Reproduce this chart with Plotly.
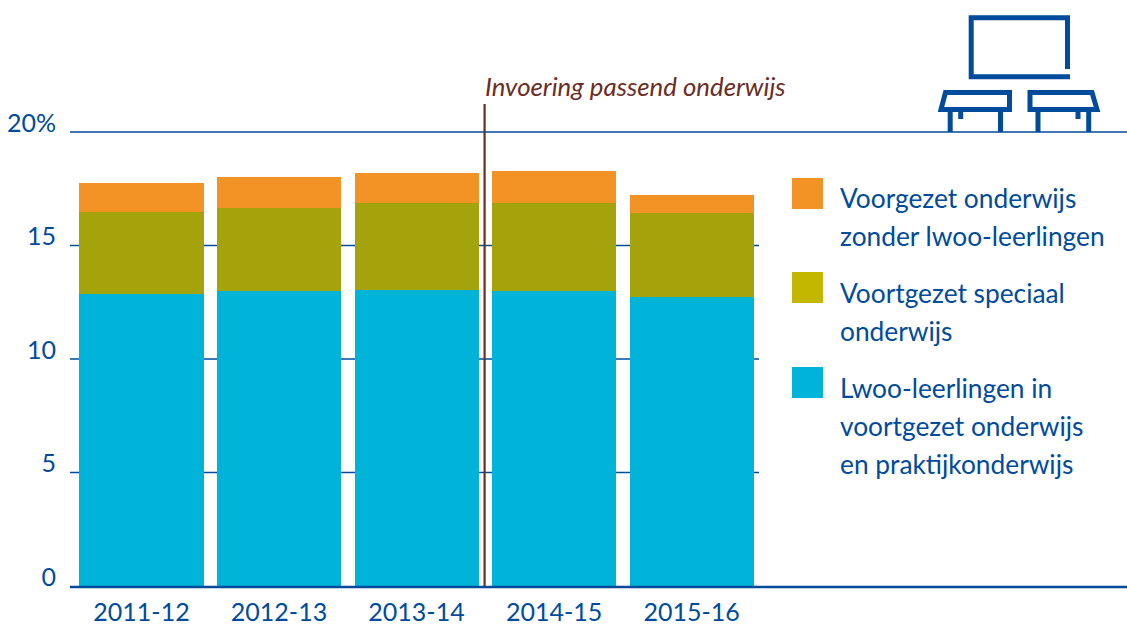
import plotly.graph_objects as go

# --- data ---
years = ["2011-12", "2012-13", "2013-14", "2014-15", "2015-16"]
lwoo = [12.88, 12.99, 13.06, 12.99, 12.75]
vso = [3.60, 3.68, 3.83, 3.90, 3.70]
vo = [1.27, 1.34, 1.30, 1.41, 0.77]
y_ticks = [0, 5, 10, 15, 20]
y_labels = ["0", "5", "10", "15", "20%"]
legend_lines = [
    ["Voorgezet onderwijs", "zonder lwoo-leerlingen"],
    ["Voortgezet speciaal", "onderwijs"],
    ["Lwoo-leerlingen in", "voortgezet onderwijs", "en praktijkonderwijs"],
]
note = "Invoering passend onderwijs"

# --- style ---
W, H = 1127, 626
L, T, B = 70, 132, 586
BLUE = "#004B9B"
BROWN = "#6B2D26"
CYAN = "#00B4D9"
OLIVE = "#A5A30C"
ORANGE = "#F39325"
LEG_OLIVE = "#C4B700"
FONT = "Lato"
FS = 26.3
NOTE_FS = 25.8
TICK_FS = 25


def px(x):
    return (x - L) / (W - L)


def py(y):
    return 1 - (y - T) / (B - T)


def path(points, close=False):
    s = "M " + " L ".join(f"{px(x):.5f},{py(y):.5f}" for x, y in points)
    return s + (" Z" if close else "")


fig = go.Figure()
for name, vals, col in [
    ("Lwoo-leerlingen in voortgezet onderwijs en praktijkonderwijs", lwoo, CYAN),
    ("Voortgezet speciaal onderwijs", vso, OLIVE),
    ("Voorgezet onderwijs zonder lwoo-leerlingen", vo, ORANGE),
]:
    fig.add_trace(go.Bar(x=list(range(len(years))), y=vals, name=name,
                         marker=dict(color=col, line_width=0), showlegend=False))

shapes = []
# gridlines: 5-15 stop just past the last bar, 20 runs to the edge
for v in y_ticks:
    if v == 0:
        continue
    full = v == 20
    shapes.append(dict(type="line", layer="below", xref="paper", yref="paper",
                       x0=0, x1=1 if full else px(759), y0=v / 20, y1=v / 20,
                       line=dict(color=BLUE, width=1.4)))
# baseline
shapes.append(dict(type="line", layer="above", xref="paper", yref="paper", x0=0, x1=1,
                   y0=py(587), y1=py(587), line=dict(color=BLUE, width=2.4)))
# marker of the policy change
shapes.append(dict(type="line", layer="above", xref="x", yref="paper",
                   x0=2.495, x1=2.495, y0=0, y1=py(104),
                   line=dict(color=BROWN, width=2.2)))
# legend swatches
for top, col in [(178, ORANGE), (272, LEG_OLIVE), (367, CYAN)]:
    shapes.append(dict(type="rect", xref="paper", yref="paper", layer="above",
                       x0=px(792), x1=px(823), y0=py(top), y1=py(top + 31),
                       fillcolor=col, line_width=0))

# classroom icon
icon_paths = [
    ([(1067.5, 69), (1067.5, 17.7), (971.2, 17.7), (971.2, 76.7), (1070, 76.7)], False),
    ([(945.5, 92.4), (1009.5, 92.4), (1009.5, 109.4), (941, 109.4)], True),
    ([(1030, 92.4), (1092, 92.4), (1097, 109.4), (1030, 109.4)], True),
    ([(950.2, 109.4), (950.2, 132)], False),
    ([(1000.5, 109.4), (1000.5, 132)], False),
    ([(960.7, 109.4), (960.7, 119)], False),
    ([(1038, 109.4), (1038, 132)], False),
    ([(1088.7, 109.4), (1088.7, 132)], False),
    ([(1078, 109.4), (1078, 119)], False),
]
for pts, closed in icon_paths:
    shapes.append(dict(type="path", xref="paper", yref="paper", layer="above",
                       path=path(pts, closed), line=dict(color=BLUE, width=5)))

annotations = [dict(text=f"<i>{note}</i>", x=px(483), y=py(86), xref="paper", yref="paper",
                    xanchor="left", yanchor="middle", showarrow=False,
                    font=dict(family=FONT, size=NOTE_FS, color=BROWN))]
for lines, first in zip(legend_lines, [198, 293, 388]):
    for i, line in enumerate(lines):
        annotations.append(dict(text=line, x=px(838), y=py(first + 38 * i),
                                xref="paper", yref="paper", xanchor="left",
                                yanchor="middle", showarrow=False,
                                font=dict(family=FONT, size=FS, color=BLUE)))

fig.update_layout(
    width=W, height=H, autosize=False,
    margin=dict(l=L, r=0, t=T, b=H - B, pad=0, autoexpand=False),
    paper_bgcolor="white", plot_bgcolor="white",
    barmode="stack", bargap=0.098,
    font=dict(family=FONT, size=FS, color=BLUE),
    shapes=shapes, annotations=annotations,
    xaxis=dict(range=[-0.52, 7.167], tickmode="array", tickvals=list(range(len(years))),
               ticktext=years, showgrid=False, showline=False, zeroline=False, automargin=False,
               ticks="", ticklabelstandoff=9, tickfont=dict(family=FONT, size=TICK_FS, color=BLUE)),
    yaxis=dict(range=[0, 20], tickmode="array", tickvals=y_ticks, ticktext=y_labels,
               showgrid=False, showline=False, zeroline=False, ticks="", automargin=False,
               ticklabelstandoff=13, ticklabelshift=-9,
               tickfont=dict(family=FONT, size=TICK_FS, color=BLUE)),
)
fig.write_html("out.html", config=dict(displayModeBar=False),
               post_script="document.body.style.margin='0';document.body.style.fontVariantLigatures='none';")
